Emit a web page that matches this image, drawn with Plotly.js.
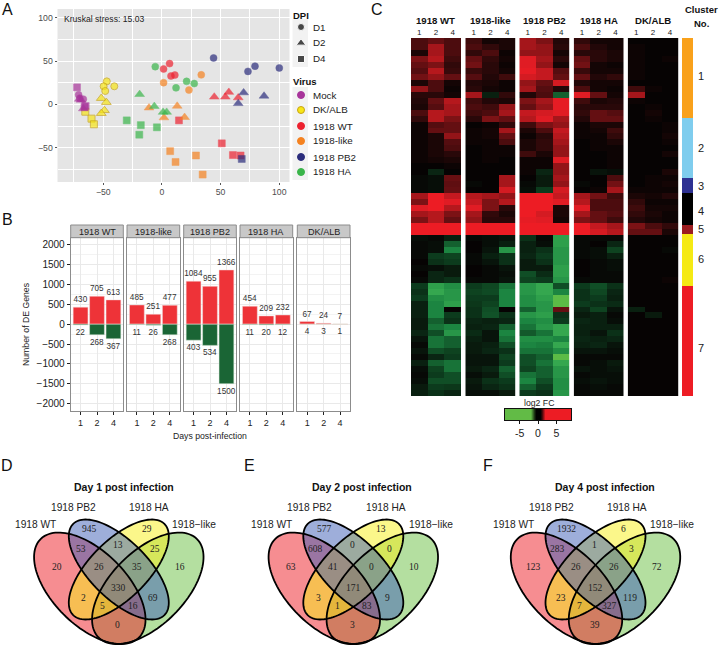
<!DOCTYPE html>
<html>
<head>
<meta charset="utf-8">
<script src="https://cdn.plot.ly/plotly-3.0.1.min.js"></script>
<style>html,body{margin:0;padding:0;background:#fff}</style>
</head>
<body>
<div id="chart" style="width:720px;height:646px"></div>
<script>
// panel A - MDS points, one set of arrays per virus
const mdsDkX = [-47,-49.7,-48.3,-40.6,-51.7,-47.4,-49,-51.7,-65.3,-60,-58];
const mdsDkY = [26.5,20.8,15.4,20.8,7,2.3,-7,-10.4,-8.5,-16.5,-23];
const mdsDkDpi = [1,1,1,1,2,2,2,2,4,4,4];
const mdsMockX = [-71,-70,-67,-70.5,-69,-67,-72.4,-65,-66];
const mdsMockY = [11,7,6,6,5,-5,19.6,-2,-3];
const mdsMockDpi = [1,1,1,2,2,2,4,4,4];
const mdsWtX = [1.4,6.5,7.7,11,44.6,54,57,65,14.5,51,60.5,67];
const mdsWtY = [40.8,47,32.7,33.8,8.5,8.5,14,7.7,-18.5,-45,-58.5,-59];
const mdsWtDpi = [1,1,1,1,2,2,2,2,4,4,4,4];
const mdsLikeX = [1.4,23,33.5,-11,1.7,13,19.3,7,11.6,29,34.7];
const mdsLikeY = [25,16.5,34,-4,-15.4,-2,-15,-54,-66.5,-59,-81];
const mdsLikeDpi = [1,1,1,2,2,2,2,4,4,4,4];
const mdsPb2X = [44,73.3,79.3,100,69.6,87,65,68];
const mdsPb2Y = [53.5,38,44,42,13.5,9.6,1,-63];
const mdsPb2Dpi = [1,1,1,1,2,2,2,4];
const mdsHaX = [-5.7,12,21,27.5,-19,-6.5,1,4,-30,-18,-19.3,-4.3];
const mdsHaY = [43.5,19,26.5,24,11.5,-2.3,-9,-9,-18.5,-24,-35,-26.5];
const mdsHaDpi = [1,1,1,1,2,2,2,2,4,4,4,4];

// panel B - DE gene counts
const days = ['1','2','4'];
const facetNames = ['1918 WT','1918-like','1918 PB2','1918 HA','DK/ALB'];
const upGenes = [[430,705,613],[485,251,477],[1084,955,1366],[454,209,232],[67,24,7]];
const downGenes = [[22,268,367],[11,26,268],[403,534,1500],[11,20,12],[4,3,1]];

// panel C - log2 FC read row by row, each row is day 1, 2, 4
const heatWT = [
[1,1.5,1],[1,3,1],[.3,3,1],[2,3.5,.8],[1.5,2,.6],[1.2,3.5,.7],[1.8,2.5,1.5],[.3,1,.2],[2.5,1,.1],[.5,.5,.2],
[.4,1.5,3.5],[.3,1.2,3],[1,3.5,3],[.6,3.5,2],[.1,1.2,1.5],[.1,1.5,1.5],[.1,.3,2.5],[.1,.3,1.2],[.1,.3,1],[.1,.3,.5],
[.1,.2,.3],[0,0,.1],[0,-.6,0],[-.1,-.2,1.6],[-.1,-.2,1.4],[-.1,-.2,1.5],[3,6,4],[2,6,5],[5,6,3.5],[3,3.5,2],
[2,3.5,1.5],[6,6,6],[6,6,6],[-.2,-.1,-.5],[-.1,-.2,-2],[-.1,-.2,-3],[-.1,-1,-1.2],[0,-.8,-1],[-.1,-.2,-.4],[0,-.6,-.4],
[-.1,-.6,-.8],[-1,-4.5,-3.5],[-.8,-5,-4],[-1,-3.5,-4],[-.5,-3,-4.5],[-.5,-3,0],[-.5,-3,-1],[-.4,-2,-.8],[-.4,-2.5,-3],[-.6,-1.5,-4],
[-.3,-2.5,-2],[-.1,-2.5,-2],[-.3,-1.5,-1.2],[-.1,-.6,-1],[-.5,-2,-2.5],[-.2,-1.2,-2.5],[-.1,-1,-1.5],[-.2,-1.5,-1.5],[-.4,-1,-.9],[-.5,-.8,-.6]];
const heatLike = [
[.8,.2,.3],[1,.6,.3],[.6,1,.1],[1.5,.6,.2],[1.8,.5,.1],[.7,.5,.2],[1.2,.4,.8],[.4,.3,.1],[.5,.2,.1],[3,-.5,.6],
[.8,.4,.3],[1,.8,2.5],[.8,1,3],[.5,2,1.5],[0,.1,.6],[.1,.2,3],[.1,.2,1.5],[.1,.1,1],[0,.1,.1],[0,.1,.1],
[0,.1,0],[0,0,0],[0,0,0],[0,0,3],[-.1,0,3],[0,0,4.5],[3.5,3,2.5],[4,2,3.5],[5,2,.5],[3,.6,.3],
[2.5,.5,.5],[6,6,6],[6,6,6],[-.1,-.2,-.3],[0,-.2,-.5],[0,-.3,-4],[-.1,-.5,-.8],[-.1,-.3,-.8],[0,-.1,-.3],[0,-.1,-.2],
[-.1,-.1,-.3],[-1,-1.3,-2.5],[-1.2,-1.4,-3],[-1,-1,-3],[-.9,-1.2,-3],[-.8,-1.5,0],[-.8,-1.6,-.8],[-.6,-.5,-.6],[-.5,-.6,-2],[-.7,-.3,-3],
[-.5,-.3,-2.5],[-.4,-.5,-1.5],[-.4,-.6,-.8],[-.3,-.3,-1.2],[-.3,-.3,-1],[-.4,-.6,-2],[-.2,-.4,-1.5],[-.4,-.8,-1],[-.3,-.6,-.8],[-.2,-.2,-.4]];
const heatPB2 = [
[3,2,.4],[3,2.5,.5],[2.5,2.5,.2],[5,3,.5],[5,2.5,.2],[5.5,4,1.2],[4.5,4,1.5],[2.5,1.5,4.5],[3,1.2,.4],[.4,1,-2],
[2,3,5.5],[1.5,2.5,5.5],[4,4.5,5],[3.5,5,3],[.8,2,2.5],[.3,1,4],[.1,.5,3.5],[.3,.6,3],[.3,.6,2.5],[.8,.3,2.5],
[.1,.1,5],[.1,.1,2.5],[.1,-.6,2.5],[0,-.4,3],[-.1,-.4,2.5],[-.2,-1,4.5],[6,6,4],[6,6,5],[6,6,.3],[6,4.5,.3],
[5.5,5,.2],[6,6,6],[6,6,6],[-.8,-.1,-4.5],[-.5,-.2,-4.5],[-.5,-.8,-4],[-.6,-1,-4],[-.4,-.8,-4],[-.4,-.4,-4.5],[-1.5,-.7,-4.5],
[-1.2,-1,-4],[-4,-5,-1.5],[-4,-5,-3],[-3.5,-4.5,-6],[-3.5,-4,-6],[-2,-4,1.5],[-4,-4.5,-.8],[-3,-3.5,-1],[-2.5,-4,-5],[-1.8,-2.5,-5],
[-3.5,-3.5,-3],[-3,-2.8,-5],[-2.5,-2.5,-3.5],[-1.5,-2,-6],[-1.5,-2.5,-5],[-1.2,-2,-4],[-2.5,-2,-4],[-3,-1.5,-3.5],[-2,-1,-3.5],[-1,-.8,-4]];
const heatHA = [
[.6,.2,.2],[1,.4,.2],[.5,.5,.3],[1.5,.5,.3],[1.8,.2,.1],[.7,.2,.2],[1.5,.4,.6],[.4,.2,.2],[1,.2,.1],[5,1.5,.2],
[.8,.3,.4],[.5,.5,.5],[.6,1.5,1.2],[.4,1.5,1.5],[.1,.3,.3],[.1,.2,.8],[.1,.1,.6],[0,.1,.3],[0,.1,.1],[0,0,.1],
[0,0,.1],[0,0,.1],[0,-.3,-.2],[0,0,1],[-.1,0,1.8],[0,.1,3],[3,1.8,.8],[3.5,1,1],[5,1,1],[3,1.5,1.2],
[2,1.5,.8],[6,4,3],[6,4.5,3.5],[-.1,-.1,-.1],[-.1,0,-.6],[-.1,-.2,-1.2],[-.1,-.2,-.5],[0,-.1,-.2],[0,-.1,-.2],[0,-.1,-.1],
[-.1,-.1,-.1],[-1,-1.5,-.8],[-.8,-1.3,-.6],[-.8,-1,-.5],[-1,-.8,-.7],[-.6,-1.2,-.3],[-.4,-.5,-.1],[-.6,-.5,-.2],[-.5,-.5,-.5],[-.5,-.3,-.8],
[-.6,-.5,-.6],[-.5,-.6,-.3],[-.3,-.3,-.2],[-.1,-.1,-.1],[-.1,-.2,-.4],[-.3,-.2,-.3],[-.1,-.2,-.2],[-.2,-.3,-.2],[-.1,-.2,-.1],[-.1,-.1,-.1]];
const heatDK = [
[0,0,0],[.1,0,0],[.1,0,0],[.1,0,.1],[.1,0,0],[.1,0,0],[.1,0,0],[0,0,0],[.8,.1,0],[3,0,0],
[.1,0,0],[0,.1,0],[0,.2,0],[0,.1,0],[0,0,.1],[0,0,.1],[0,0,.2],[0,0,.1],[0,0,0],[0,0,.2],
[0,0,0],[0,0,0],[0,0,.3],[0,.1,.1],[0,.1,.2],[.1,.1,.1],[.3,.2,.4],[.6,.1,.1],[.8,.2,.2],[.6,.3,.1],
[.4,.2,.1],[2,1,.6],[1.5,1.5,.3],[0,0,0],[0,0,0],[0,0,-.1],[0,0,0],[0,0,0],[0,0,0],[0,0,0],
[0,0,.1],[0,0,0],[0,0,0],[0,0,0],[0,0,0],[-.5,0,0],[0,-.4,0],[0,0,0],[0,0,0],[0,0,0],
[0,0,0],[0,0,0],[0,0,0],[0,0,0],[0,0,0],[0,0,0],[0,0,0],[0,0,0],[0,0,0],[0,0,0]];
const heatFacets = [heatWT,heatLike,heatPB2,heatHA,heatDK];
const clusterEdges = [-0.5,12.9,23,25.5,30.8,32.4,41.1,59.5];
const clusterIds = [1,2,3,4,5,6,7];
const clusterColors = ['#F9A11B','#7FCDEE','#2E3192','#000000','#9B1C20','#F5EA14','#ED1C24'];
const clusterLabelY = [76,148,186,211,229,259,348];
const legendScale = [-9,-8,-7,-6,-5,-4,-3,-2,-1,0,1,2,3,4,5,6,7,8,9];

// panels D, E, F - venn counts, same region order in each
const vennDay1 = [945,29,53,13,25,20,26,35,16,330,2,69,5,16,0];
const vennDay2 = [577,13,608,0,0,63,41,0,10,171,3,9,1,83,3];
const vennDay4 = [1932,6,283,1,3,123,26,26,72,152,23,119,7,327,39];
const vennOffsetX = [-29,28,-38,-1,36,-62,-20,18,61,0,-35,34,-16,14,-1];
const vennOffsetY = [-58.7,-58.7,-39,-43,-39,-21.3,-21.3,-21.3,-21.3,0,9.7,9.7,17.7,17.7,37];

const FONT = 'Liberation Sans, Arial, sans-serif';
const W = 720, H = 646;
const px = x => x / W;
const py = y => 1 - y / H;
const domX = (a, b) => [px(a), px(b)];
const domY = (top, bottom) => [py(bottom), py(top)];

const traces = [];
const shapes = [];
const annotations = [];

function label(x, y, text, size, opts) {
    annotations.push(Object.assign({
        xref: 'paper', yref: 'paper', x: px(x), y: py(y), text: text, showarrow: false,
        xanchor: 'center', yanchor: 'middle', borderpad: 0,
        font: {family: FONT, size: size, color: '#222'}
    }, opts || {}));
}

function rect(x0, y0, x1, y1, fill, line, layer) {
    shapes.push({type: 'rect', xref: 'paper', yref: 'paper', x0: px(x0), x1: px(x1), y0: py(y0), y1: py(y1),
        fillcolor: fill, line: line ? {color: line, width: 1} : {width: 0}, layer: layer || 'below'});
}

const layout = {
    width: W, height: H, margin: {l: 0, r: 0, t: 0, b: 0},
    paper_bgcolor: '#fff', plot_bgcolor: 'rgba(0,0,0,0)',
    showlegend: false, barmode: 'overlay', bargap: 0.1,
    font: {family: FONT, color: '#333'}
};

// panel letters
[['A',7,9],['B',7,220],['C',377,9],['D',7,465],['E',249,465],['F',488,465]].forEach(p => {
    label(p[1], p[2], p[0], 16, {font: {family: FONT, size: 16, color: '#111'}});
});

// ---- panel A ----
const symbolFor = {1: 'circle', 2: 'triangle-up', 4: 'square'};
const sizeFor = {1: 7, 2: 8.5, 4: 7};
function mdsTrace(xs, ys, dpi, color, lineColor) {
    traces.push({
        type: 'scatter', mode: 'markers', x: xs, y: ys, xaxis: 'x', yaxis: 'y',
        marker: {color: color, symbol: dpi.map(d => symbolFor[d]), size: dpi.map(d => sizeFor[d]),
            line: {color: lineColor || color, width: lineColor ? 1 : 0.5}}
    });
}
const virusColors = {mock: '#A8359B', dk: '#F7E617', wt: '#ED2230', like: '#F58220', pb2: '#2B2D7C', ha: '#3AB54A'};
mdsTrace(mdsDkX, mdsDkY, mdsDkDpi, virusColors.dk, '#C8A415');
mdsTrace(mdsMockX, mdsMockY, mdsMockDpi, virusColors.mock);
mdsTrace(mdsWtX, mdsWtY, mdsWtDpi, virusColors.wt);
mdsTrace(mdsLikeX, mdsLikeY, mdsLikeDpi, virusColors.like);
mdsTrace(mdsPb2X, mdsPb2Y, mdsPb2Dpi, virusColors.pb2);
mdsTrace(mdsHaX, mdsHaY, mdsHaDpi, virusColors.ha);

rect(57.5, 9, 289.5, 182, '#E5E5E5');
layout.xaxis = {domain: domX(57.5, 289.5), range: [-89, 108.7], anchor: 'y', tickvals: [-50,0,50,100],
    showgrid: true, gridcolor: '#fff', gridwidth: 1, zeroline: false,
    minor: {showgrid: true, tickvals: [-75,-25,25,75], gridcolor: '#fff', gridwidth: 0.5},
    ticks: 'outside', ticklen: 2, tickcolor: '#555', tickfont: {size: 8.7, color: '#4d4d4d'}};
layout.yaxis = {domain: domY(9, 182), range: [-89.6, 110], anchor: 'x', tickvals: [-50,0,50,100],
    showgrid: true, gridcolor: '#fff', gridwidth: 1, zeroline: false,
    minor: {showgrid: true, tickvals: [-75,-25,25,75], gridcolor: '#fff', gridwidth: 0.5},
    ticks: 'outside', ticklen: 2, tickcolor: '#555', tickfont: {size: 8.7, color: '#4d4d4d'}};
label(63, 18.5, 'Kruskal stress: 15.03', 8.6, {xanchor: 'left'});

// legend of panel A, drawn on a page-sized hidden axis
layout.xaxis14 = {domain: [0, 1], range: [0, W], anchor: 'y14', visible: false};
layout.yaxis14 = {domain: [0, 1], range: [H, 0], anchor: 'x14', visible: false};
const dpiLabels = ['D1','D2','D4'];
const dpiKeyY = [27,43,59];
const dpiKeySymbol = ['circle','triangle-up','square'];
const virusLabels = ['Mock','DK/ALB','1918 WT','1918-like','1918 PB2','1918 HA'];
const virusKeyY = [95,110,126,141,157,172];
const virusKeyColor = [virusColors.mock, virusColors.dk, virusColors.wt, virusColors.like, virusColors.pb2, virusColors.ha];
rect(292.5, 19, 308, 67, '#F2F2F2');
rect(292.5, 87, 308, 180, '#F2F2F2');
label(292, 15, '<b>DPI</b>', 9.5, {xanchor: 'left', font: {family: FONT, size: 9.5, color: '#111'}});
label(292, 81, '<b>Virus</b>', 9.5, {xanchor: 'left', font: {family: FONT, size: 9.5, color: '#111'}});
traces.push({type: 'scatter', mode: 'markers', xaxis: 'x14', yaxis: 'y14', x: [301,301,301], y: dpiKeyY,
    marker: {color: '#000', symbol: dpiKeySymbol, size: [7,8.5,7]}});
traces.push({type: 'scatter', mode: 'markers', xaxis: 'x14', yaxis: 'y14', x: [301,301,301,301,301,301], y: virusKeyY,
    marker: {color: virusKeyColor, size: 7, line: {color: ['#A8359B','#C8A415','#ED2230','#F58220','#2B2D7C','#3AB54A'], width: 1}}});
dpiLabels.forEach((t, i) => label(312, dpiKeyY[i], t, 9.8, {xanchor: 'left'}));
virusLabels.forEach((t, i) => label(312, virusKeyY[i], t, 9.8, {xanchor: 'left'}));

// ---- panel B ----
const facetLeft = [70.7,127,183.7,240,297.3];
const facetRight = [123.3,179.7,236.3,292.7,350];
facetNames.forEach((name, i) => {
    const n = i + 2;
    const xName = 'x' + n, yName = 'y' + n;
    traces.push({type: 'bar', xaxis: xName, yaxis: yName, x: [1,2,3], y: upGenes[i], width: 0.9,
        marker: {color: '#EE3338', line: {color: '#f4dcdc', width: 0.5}},
        text: upGenes[i].map(String), textposition: 'outside', cliponaxis: false, constraintext: 'none',
        textfont: {size: 8.2, color: '#333', family: FONT}});
    traces.push({type: 'bar', xaxis: xName, yaxis: yName, x: [1,2,3], y: downGenes[i].map(v => -v), width: 0.9,
        marker: {color: '#1A6535', line: {color: '#dcebdc', width: 0.5}},
        text: downGenes[i].map(String), textposition: 'outside', cliponaxis: false, constraintext: 'none',
        textfont: {size: 8.2, color: '#333', family: FONT}});
    layout['xaxis' + n] = {domain: domX(facetLeft[i], facetRight[i]), range: [0.4, 3.6], anchor: yName,
        tickvals: [1,2,3], ticktext: days, ticks: 'outside', ticklen: 3, tickcolor: '#222',
        tickfont: {size: 9, color: '#222'}, showgrid: true, gridcolor: '#e9e9e9', zeroline: false,
        showline: true, mirror: true, linecolor: '#8c8c8c', linewidth: 1};
    layout['yaxis' + n] = {domain: domY(237.7, 410.7), range: [-2180, 2180], anchor: xName,
        tickvals: [-2000,-1500,-1000,-500,0,500,1000,1500,2000], showticklabels: i === 0,
        ticks: i === 0 ? 'outside' : '', ticklen: 3, tickcolor: '#222', tickfont: {size: 10, color: '#222'},
        showgrid: true, gridcolor: '#e9e9e9', zeroline: false,
        minor: {showgrid: true, tickvals: [-1750,-1250,-750,-250,250,750,1250,1750], gridcolor: '#f3f3f3', gridwidth: 0.5},
        showline: true, mirror: true, linecolor: '#8c8c8c', linewidth: 1};
    rect(facetLeft[i], 225, facetRight[i], 237.7, '#C8C8C8', '#8c8c8c', 'above');
    label((facetLeft[i] + facetRight[i]) / 2, 232, name, 9.1);
});
label(26, 324, 'Number of DE Genes', 8.7, {textangle: -90});
label(210, 436, 'Days post-infection', 8.7);

// ---- panel C ----
const heatLeft = [411,465.3,519.3,573.7,627.7];
const heatRight = [461,515.7,569.7,623.7,678.3];
const heatScale = [[0,'#5CBB46'],[0.08,'#35A84F'],[0.25,'#1C8541'],[0.42,'#0C3A1C'],[0.5,'#060303'],
    [0.58,'#4A0C0E'],[0.72,'#9A1519'],[0.9,'#DD1C24'],[1,'#ED1C24']];
heatFacets.forEach((rows, i) => {
    const n = i + 7;
    traces.push({type: 'heatmap', xaxis: 'x' + n, yaxis: 'y' + n, z: rows, zmin: -6, zmax: 6,
        colorscale: heatScale, showscale: false, hoverongaps: false});
    layout['xaxis' + n] = {domain: domX(heatLeft[i], heatRight[i]), range: [-0.5, 2.5], anchor: 'y' + n, side: 'top',
        tickvals: [0,1,2], ticktext: days, ticks: '', tickfont: {size: 8, color: '#222'}, showgrid: false, zeroline: false};
    layout['yaxis' + n] = {domain: domY(38, 396), range: [59.5, -0.5], anchor: 'x' + n, visible: false};
    label((heatLeft[i] + heatRight[i]) / 2, 20, '<b>' + facetNames[i] + '</b>', 9.6, {font: {family: FONT, size: 9.6, color: '#111'}});
});
// cluster side bar
traces.push({type: 'heatmap', xaxis: 'x12', yaxis: 'y12', z: clusterIds.map(c => [c]), y: clusterEdges, x: [0], zmin: 1, zmax: 7,
    showscale: false,
    colorscale: clusterColors.flatMap((c, i) => [[i / 7, c], [(i + 1) / 7, c]])});
layout.xaxis12 = {domain: domX(682, 693.3), anchor: 'y12', visible: false};
layout.yaxis12 = {domain: domY(38, 396), range: [59.5, -0.5], anchor: 'x12', visible: false};
clusterIds.forEach((c, i) => label(701, clusterLabelY[i], String(c), 11));
label(701.5, 10, '<b>Cluster</b>', 9.5, {font: {family: FONT, size: 9.5, color: '#111'}});
label(701.5, 24, '<b>No.</b>', 9.5, {font: {family: FONT, size: 9.5, color: '#111'}});

// log2 FC key
traces.push({type: 'heatmap', xaxis: 'x13', yaxis: 'y13', z: [legendScale], x: legendScale, y: [0], zmin: -9, zmax: 9,
    showscale: false, zsmooth: 'best',
    colorscale: [[0,'#62BB46'],[0.38,'#62BB46'],[0.47,'#000000'],[0.53,'#000000'],[0.61,'#ED1C24'],[1,'#ED1C24']]});
layout.xaxis13 = {domain: domX(505, 571), range: [-9, 9], anchor: 'y13', tickvals: [-5,0,5], ticktext: ['-5','0','5'],
    ticks: 'outside', ticklen: 3, tickcolor: '#111', tickfont: {size: 10.5, color: '#222'},
    showline: true, mirror: true, linecolor: '#111', linewidth: 1, showgrid: false, zeroline: false};
layout.yaxis13 = {domain: domY(409, 420), range: [-0.5, 0.5], anchor: 'x13', showticklabels: false, ticks: '',
    showline: true, mirror: true, linecolor: '#111', linewidth: 1, showgrid: false, zeroline: false};
label(539, 403, 'log2 FC', 8.7);

// ---- panels D, E, F ----
function ellipsePath(cx, cy, a, b, deg) {
    const t = deg * Math.PI / 180;
    let d = '';
    for (let k = 0; k < 120; k++) {
        const u = k / 120 * 2 * Math.PI;
        const ex = a * Math.cos(u), ey = b * Math.sin(u);
        const sx = cx + ex * Math.cos(t) - ey * Math.sin(t);
        const sy = cy + ex * Math.sin(t) + ey * Math.cos(t);
        d += (k ? 'L' : 'M') + px(sx).toFixed(5) + ',' + py(sy).toFixed(5);
    }
    return d + 'Z';
}
function venn(cx, textDx, title, titleX, counts) {
    // stacking order green, red, yellow, blue gives the muted overlap colours
    const sets = [
        [cx + 29, 588.3, 69.6, 37, -45, 'rgba(105,191,65,0.5)'],
        [cx - 29, 588.3, 69.6, 37, 45, 'rgba(237,28,36,0.5)'],
        [cx, 569.5, 64.5, 29, -45, 'rgba(247,239,21,0.5)'],
        [cx, 569.5, 64.5, 29, 45, 'rgba(61,93,181,0.5)']
    ];
    // fills first, outlines in a second pass so all black lines stay on top
    sets.forEach(s => shapes.push({type: 'path', xref: 'paper', yref: 'paper', layer: 'above',
        path: ellipsePath(s[0], s[1], s[2], s[3], s[4]), fillcolor: s[5], line: {width: 0}}));
    sets.forEach(s => shapes.push({type: 'path', xref: 'paper', yref: 'paper', layer: 'above',
        path: ellipsePath(s[0], s[1], s[2], s[3], s[4]), fillcolor: 'rgba(0,0,0,0)', line: {color: '#000', width: 1.8}}));
    label(titleX, 487, '<b>' + title + '</b>', 10.5, {font: {family: FONT, size: 10.5, color: '#111'}});
    label(73 + textDx, 507, '1918 PB2', 10.2);
    label(149 + textDx, 507, '1918 HA', 10.2);
    label(35 + textDx, 524, '1918 WT', 10.2);
    label(194 + textDx, 524, '1918−like', 10.2);
    counts.forEach((v, i) => label(cx + vennOffsetX[i], 588 + vennOffsetY[i], String(v), 9.5,
        {font: {family: 'Liberation Serif, serif', size: 9.5, color: '#222'}}));
}
venn(118.8, 0, 'Day 1 post infection', 124, vennDay1);
venn(353.3, 236.7, 'Day 2 post infection', 362, vennDay2);
venn(595.5, 478, 'Day 4 post infection', 605, vennDay4);

layout.shapes = shapes;
layout.annotations = annotations;

Plotly.newPlot('chart', traces, layout, {displayModeBar: false, responsive: false});
</script>
</body>
</html>
